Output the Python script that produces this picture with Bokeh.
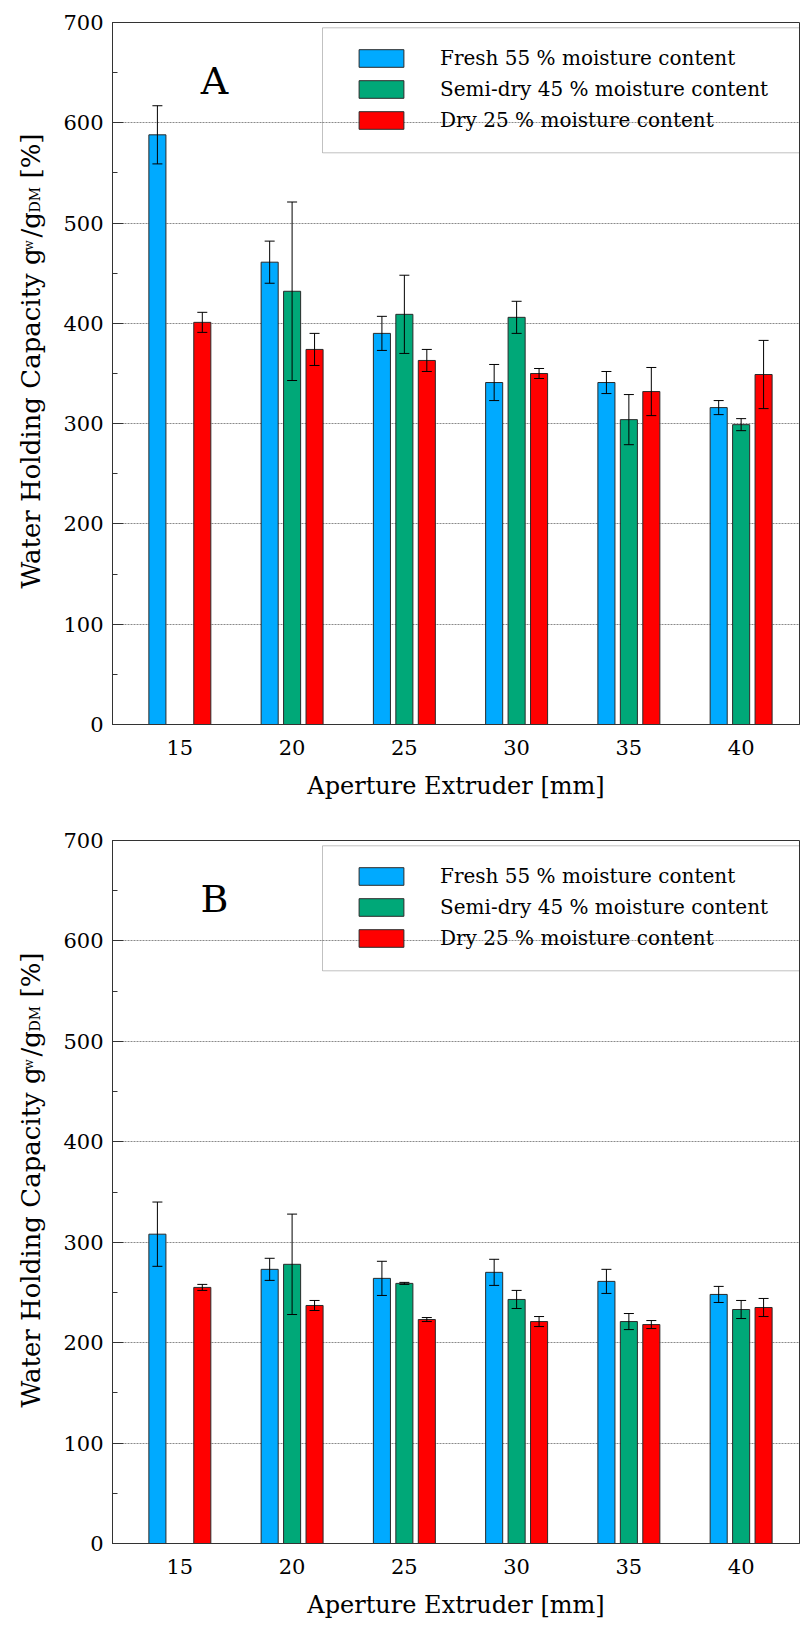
import numpy as np
from bokeh.plotting import figure
from bokeh.models import (ColumnDataSource, Whisker, TeeHead, Label, Legend, LegendItem,
                          BoxAnnotation, SingleIntervalTicker, FixedTicker, Range1d)
from bokeh.layouts import column, row
from bokeh.embed import file_html
from bokeh.resources import INLINE
from bokeh.core.properties import value

nan = float("nan")

apertures = [15, 20, 25, 30, 35, 40]
series_names = ["Fresh 55 % moisture content",
                "Semi-dry 45 % moisture content",
                "Dry 25 % moisture content"]
series_colors = ["#00AAFF", "#00A878", "#FF0000"]

# Panel A
a_fresh = [588, 461, 390, 341, 341, 316]
a_fresh_err = [29, 21, 17, 18, 11, 7]
a_semi = [nan, 432, 409, 406, 304, 299]
a_semi_err = [nan, 89, 39, 16, 25, 6]
a_dry = [401, 374, 363, 350, 332, 349]
a_dry_err = [10, 16, 11, 5, 24, 34]

# Panel B
b_fresh = [308, 273, 264, 270, 261, 248]
b_fresh_err = [32, 11, 17, 13, 12, 8]
b_semi = [nan, 278, 259, 243, 221, 233]
b_semi_err = [nan, 50, 1, 9, 8, 9]
b_dry = [255, 237, 223, 221, 218, 235]
b_dry_err = [3, 5, 2, 5, 4, 9]

y_title_pieces = ["Water Holding Capacity g", "w", "/g", "DM", "[%]"]

FONT = "DejaVu Serif"
FIG_H = 815
LAB_W = 60


def make_ylabel(border_top, border_bottom):
    frame_h = FIG_H - border_top - border_bottom
    q = figure(width=LAB_W, height=FIG_H, x_range=Range1d(0, LAB_W), y_range=Range1d(0, frame_h),
               x_axis_type=None, y_axis_type=None, output_backend="svg", toolbar_location=None,
               min_border_left=0, min_border_right=0,
               min_border_top=border_top, min_border_bottom=border_bottom)
    q.outline_line_color = None
    q.background_fill_color = "white"
    q.border_fill_color = "white"
    q.grid.visible = False
    # (font size px, centre-line x px, start along the frame height px)
    layout_spec = [(26, 30.0, 136), (12, 28.8, 474), (26, 30.0, 487), (14, 34.2, 512), (26, 30.0, 546)]
    for txt, (fs, cx, sy) in zip(y_title_pieces, layout_spec):
        q.text(x=[cx], y=[sy], text=[txt], angle=np.pi / 2,
               text_align="left", text_baseline="middle",
               text_font=value(FONT), text_font_size=value(f"{fs}px"), text_color="black")
    return q


def make_panel(letter, series, errors, border_top, border_bottom):
    p = figure(width=800 - LAB_W, height=FIG_H, x_range=Range1d(12, 42.6), y_range=Range1d(0, 700),
               output_backend="svg", toolbar_location=None,
               min_border_left=110 - LAB_W, min_border_right=1,
               min_border_top=border_top, min_border_bottom=border_bottom)
    frame_h = FIG_H - border_top - border_bottom
    p.background_fill_color = "white"
    p.border_fill_color = "white"
    p.outline_line_color = "#333333"
    p.outline_line_width = 1

    p.xgrid.visible = False
    p.ygrid.ticker = SingleIntervalTicker(interval=100)
    p.ygrid.grid_line_color = "#8a8a8a"
    p.ygrid.grid_line_dash = "2 1"
    p.ygrid.grid_line_width = 1

    yax = p.yaxis[0]
    yax.ticker = SingleIntervalTicker(interval=100, num_minor_ticks=2)
    yax.major_tick_in = 11
    yax.major_tick_out = 0
    yax.minor_tick_in = 5
    yax.minor_tick_out = 0
    yax.axis_line_color = "#333333"
    yax.major_tick_line_color = "#333333"
    yax.minor_tick_line_color = "#333333"
    yax.major_label_text_font = FONT
    yax.major_label_text_font_size = "21px"
    yax.major_label_text_color = "black"
    yax.major_label_standoff = 9

    xax = p.xaxis[0]
    xax.ticker = FixedTicker(ticks=apertures)
    xax.major_tick_in = 0
    xax.major_tick_out = 0
    xax.minor_tick_line_color = None
    xax.axis_line_color = "#333333"
    xax.major_label_text_font = FONT
    xax.major_label_text_font_size = "21px"
    xax.major_label_text_color = "black"
    xax.major_label_standoff = 15
    xax.axis_label = "Aperture Extruder [mm]"
    xax.axis_label_text_font = FONT
    xax.axis_label_text_font_size = "24px"
    xax.axis_label_text_font_style = "normal"
    xax.axis_label_text_color = "black"
    xax.axis_label_standoff = 14

    offsets = [-1.0, 0.0, 1.0]
    items = []
    for vals, errs, color, name, off in zip(series, errors, series_colors, series_names, offsets):
        vals = np.array(vals, dtype=float)
        errs = np.array(errs, dtype=float)
        mask = ~np.isnan(vals)
        xs = np.array(apertures, dtype=float)[mask] + off
        src = ColumnDataSource(dict(x=xs, top=vals[mask],
                                    upper=vals[mask] + errs[mask],
                                    lower=vals[mask] - errs[mask]))
        r = p.vbar(x="x", top="top", bottom=0, width=0.76, source=src,
                   fill_color=color, line_color="#2a2a2a", line_width=1)
        w = Whisker(base="x", upper="upper", lower="lower", source=src, dimension="height",
                    line_color="black", line_width=1, level="annotation",
                    upper_head=TeeHead(size=10, line_color="black", line_width=1),
                    lower_head=TeeHead(size=10, line_color="black", line_width=1))
        p.add_layout(w)
        items.append(LegendItem(label=name, renderers=[r]))

    box = BoxAnnotation(left=210, right=687.7, top=frame_h - 5.3, bottom=frame_h - 130.3,
                        left_units="screen", right_units="screen",
                        top_units="screen", bottom_units="screen",
                        fill_alpha=0, line_color="#333333", line_width=1, level="annotation")
    p.add_layout(box)
    legend = Legend(items=items, location=(221, frame_h - 129.7),
                    padding=20, spacing=7, margin=0,
                    glyph_width=56, glyph_height=22, label_standoff=31,
                    label_text_font=FONT, label_text_font_size="20px", label_text_color="black",
                    border_line_alpha=0, background_fill_alpha=0)
    p.add_layout(legend)

    p.add_layout(Label(x=102, y=frame_h - 58, x_units="screen", y_units="screen", text=letter,
                       text_align="center", text_baseline="middle",
                       text_font=FONT, text_font_size="38px", text_color="black"))
    return p


pA = make_panel("A", [a_fresh, a_semi, a_dry], [a_fresh_err, a_semi_err, a_dry_err], 22, 91)
pB = make_panel("B", [b_fresh, b_semi, b_dry], [b_fresh_err, b_semi_err, b_dry_err], 25, 87)
lA = make_ylabel(22, 91)
lB = make_ylabel(25, 87)

layout = column(row(lA, pA, spacing=0), row(lB, pB, spacing=0), spacing=0)
open("out.html", "w").write(file_html(layout, INLINE))
